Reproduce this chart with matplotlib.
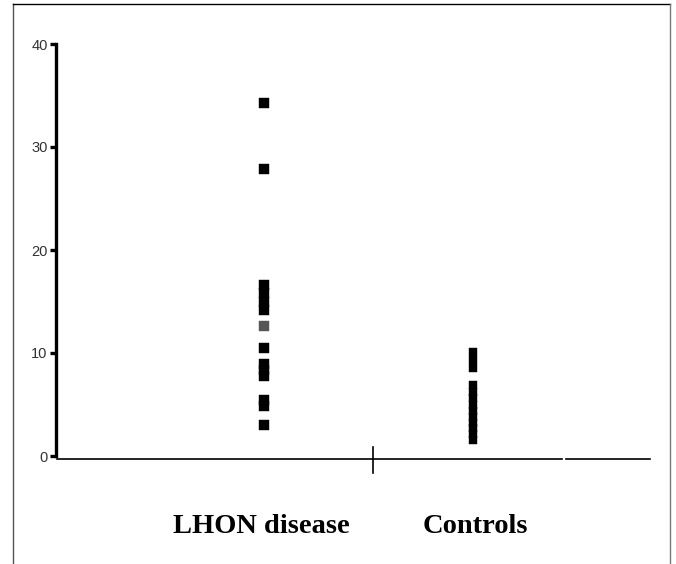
import matplotlib
matplotlib.use("Agg")
import matplotlib.pyplot as plt
from matplotlib.lines import Line2D

categories = ["LHON disease", "Controls"]
lhon_values = [34.3, 27.9, 16.65, 15.8, 14.98, 14.15, 10.5, 8.98, 8.35, 7.72, 5.39, 4.9, 3.0]
lhon_gray = [12.6]
control_values = [10.1, 9.3, 8.5, 6.85, 6.2, 5.6, 5.0, 4.4, 3.8, 3.2, 2.7, 2.1, 1.55]
yticks = [0, 10, 20, 30, 40]

W, H = 676, 564
fig = plt.figure(figsize=(W / 100, H / 100), dpi=100)

def fx(px):
    return px / W

def fy(py):
    return 1 - py / H

ax = fig.add_axes([fx(56), fy(456), fx(650) - fx(56), fy(44) - fy(456)])
ax.set_ylim(0, 40)
x_l, x_r = 264, 473
scale = (x_r - x_l)
ax.set_xlim(1 - (x_l - 56) / scale, 2 + (650 - x_r) / scale)

ax.plot([1] * len(lhon_values), lhon_values, ls="none", marker="s", ms=7.8,
        mfc="black", mec="black", mew=0.3)
ax.plot([1] * len(lhon_gray), lhon_gray, ls="none", marker="s", ms=7.8,
        mfc="#555555", mec="#555555", mew=0.3)
ax.plot([2] * len(control_values), control_values, ls="none", marker="s", ms=6.0,
        mfc="black", mec="black", mew=0.3)

for s in ["top", "right", "bottom"]:
    ax.spines[s].set_visible(False)
ax.spines["left"].set_linewidth(2.4)
ax.set_xticks([])
ax.set_yticks(yticks)
ax.set_yticklabels([str(t) for t in yticks], fontsize=10.5, color="#333333",
                   family="Liberation Sans")
ax.tick_params(axis="y", length=4, width=2.4, pad=2, direction="out")
ax.patch.set_alpha(0)

# baseline and divider
fig.add_artist(Line2D([fx(57), fx(562)], [fy(459), fy(459)], color="black", lw=1.2))
fig.add_artist(Line2D([fx(566), fx(650)], [fy(459), fy(459)], color="black", lw=1.2))
fig.add_artist(Line2D([fx(373), fx(373)], [fy(447), fy(473)], color="black", lw=1.2))

# frame
fig.add_artist(Line2D([fx(13), fx(13)], [fy(4), 0], color="#555555", lw=1.0))
fig.add_artist(Line2D([fx(13), fx(670)], [fy(4), fy(4)], color="black", lw=1.0))
fig.add_artist(Line2D([fx(670), fx(670)], [fy(4), 0], color="#777777", lw=1.0))

label_x = [261, 475]
for lab, px in zip(categories, label_x):
    fig.text(fx(px), fy(533), lab, ha="center", va="baseline", fontsize=20.5,
             fontweight="bold", family="Liberation Serif")

fig.savefig("out.png", dpi=100)
